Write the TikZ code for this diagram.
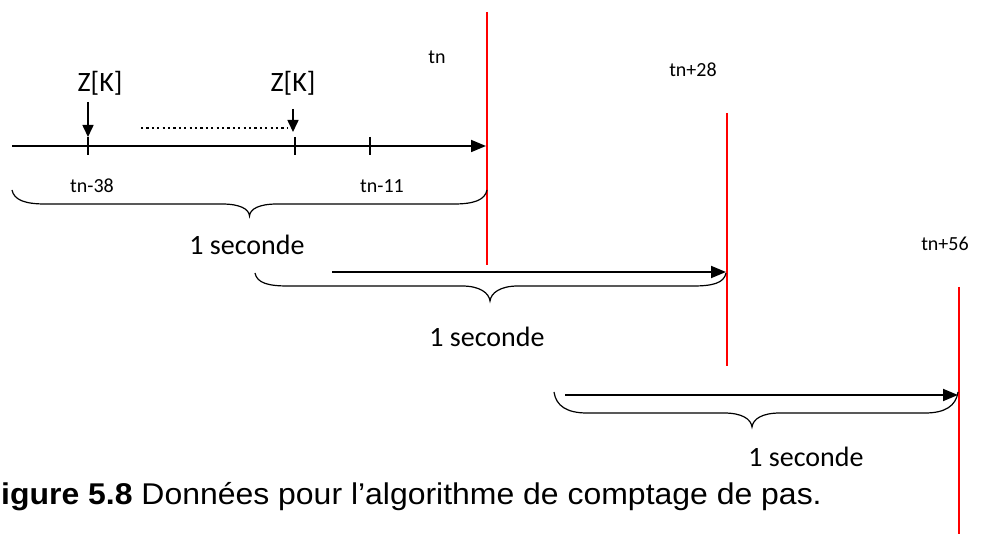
\documentclass[tikz,border=0pt]{standalone}
\usepackage{fontspec}
\setmainfont{Carlito}
\newfontfamily\capfont{Liberation Sans}
\usetikzlibrary{arrows.meta}
\tikzset{
  axis/.style={line width=1.8pt,-{Triangle[length=15pt,width=12pt]}},
  redline/.style={draw=red,line width=1.6pt},
  tickmark/.style={line width=1.2pt},
  downarrow/.style={line width=1.6pt,-{Triangle[length=12pt,width=11pt]}},
  bracepath/.style={line width=1.2pt},
  biglabel/.style={font=\fontsize{28}{30}\selectfont,inner sep=0pt},
  smalllabel/.style={font=\fontsize{20}{22}\selectfont,inner sep=0pt},
}
\begin{document}
\begin{tikzpicture}[x=1pt,y=-1pt]
\useasboundingbox (0,0) rectangle (994,534);
% red lines
\coordinate (r1t) at (487,12);  \coordinate (r1b) at (487,265);
\coordinate (r2t) at (727,113); \coordinate (r2b) at (727,366);
\coordinate (r3t) at (959,287); \coordinate (r3b) at (959,534);
\draw[redline] (r1t) -- (r1b);
\draw[redline] (r2t) -- (r2b);
\draw[redline] (r3t) -- (r3b);
% axes
\coordinate (a1s) at (12,146);  \coordinate (a1e) at (486,146);
\coordinate (a2s) at (332,272); \coordinate (a2e) at (726,272);
\coordinate (a3s) at (565,395); \coordinate (a3e) at (958,395);
\draw[axis] (a1s) -- (a1e);
\draw[axis] (a2s) -- (a2e);
\draw[axis] (a3s) -- (a3e);
% ticks
\coordinate (t1a) at (88,137);  \coordinate (t1b) at (88,155);
\coordinate (t2a) at (295,137); \coordinate (t2b) at (295,155);
\coordinate (t3a) at (370,137); \coordinate (t3b) at (370,155);
\draw[tickmark] (t1a) -- (t1b);
\draw[tickmark] (t2a) -- (t2b);
\draw[tickmark] (t3a) -- (t3b);
% down arrows
\coordinate (d1s) at (88,102);  \coordinate (d1e) at (88,137);
\coordinate (d2s) at (293,109); \coordinate (d2e) at (293,132);
\draw[downarrow] (d1s) -- (d1e);
\draw[downarrow] (d2s) -- (d2e);
% dotted
\coordinate (ds) at (141,128); \coordinate (de) at (288,128);
\draw[line width=1.3pt,dash pattern=on 2.2pt off 3.2pt] (ds) -- (de);
% labels
\node[biglabel] (z1) at (100,83) {Z[K]};
\node[biglabel] (z2) at (293,83) {Z[K]};
\node[smalllabel] (tn) at (437,57) {tn};
\node[smalllabel] (tn38) at (92,186) {tn-38};
\node[smalllabel] (tn11) at (382,186) {tn-11};
\node[smalllabel] (tn28) at (693,70) {tn+28};
\node[smalllabel] (tn56) at (945,244) {tn+56};
\node[biglabel] (s1) at (247,245) {1 seconde};
\node[biglabel] (s2) at (487,337) {1 seconde};
\node[biglabel] (s3) at (806,457) {1 seconde};
% braces
\draw[bracepath] (12,190) .. controls (14,200) and (25,204) .. (45,204) -- (222,204)
  .. controls (240,204) and (249,209) .. (249.5,216)
  .. controls (250,209) and (259,204) .. (277,204) -- (454,204)
  .. controls (474,204) and (485,200) .. (487,190);
\draw[bracepath] (255,273) .. controls (257,283) and (268,286) .. (288,286) -- (462,286)
  .. controls (480,286) and (489,293) .. (490,301)
  .. controls (491,293) and (500,286) .. (518,286) -- (693,286)
  .. controls (713,286) and (724,283) .. (726,273);
\draw[bracepath] (554,392) .. controls (556,406) and (567,413) .. (587,413) -- (724,413)
  .. controls (742,413) and (751,419) .. (752,427)
  .. controls (753,419) and (762,413) .. (780,413) -- (925,413)
  .. controls (945,413) and (956,406) .. (958,392);
% caption
\node[anchor=base west,inner sep=0pt,font=\capfont\fontsize{30}{32}\selectfont] (cap) at (-18.5,505)
  {\scalebox{1.065}[1]{\textbf{Figure 5.8} Données pour l’algorithme de comptage de pas.}};
\end{tikzpicture}
\end{document}
